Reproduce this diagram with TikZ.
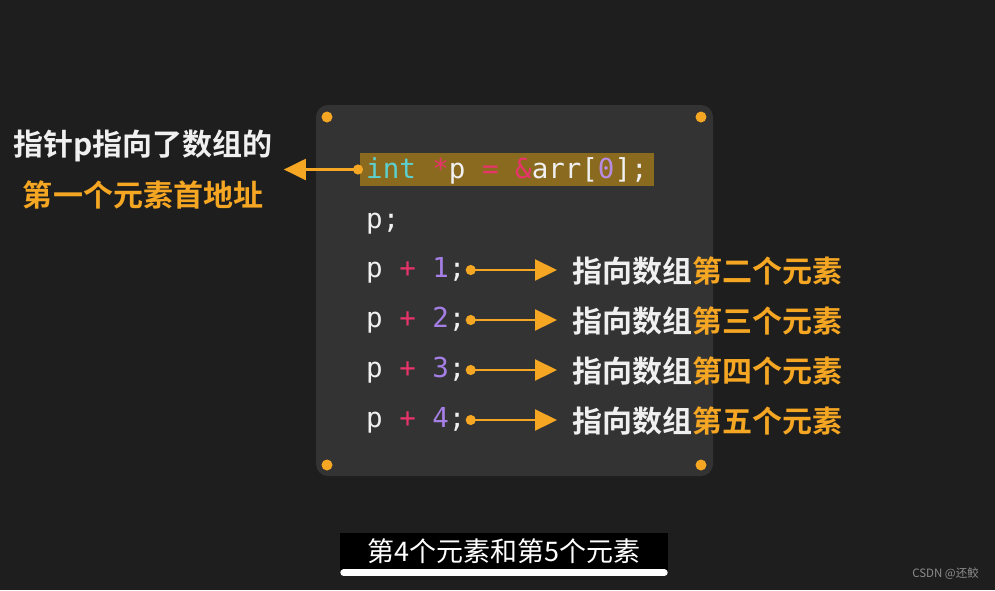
\documentclass[tikz,border=0pt]{standalone}
\usepackage{fontspec}
\usepackage{xcolor}
\setmonofont{DejaVu Sans Mono}
\newfontfamily\cjk{Noto Sans CJK SC}[BoldFont={Noto Sans CJK SC Bold}]
\usetikzlibrary{positioning,arrows.meta}
\definecolor{cBg}{HTML}{1E1E1E}
\definecolor{cPanel}{HTML}{333333}
\definecolor{cHl}{HTML}{8A6A1E}
\definecolor{cOrange}{HTML}{F5A623}
\definecolor{cKw}{HTML}{5CCFCF}
\definecolor{cOp}{HTML}{E8336B}
\definecolor{cNum}{HTML}{A57FE6}
\definecolor{cTxt}{HTML}{F0F0F0}
\tikzset{
  panel/.style={fill=cPanel, rounded corners=12pt},
  pin/.style={circle, fill=cOrange, minimum size=11pt, inner sep=0pt},
  codeln/.style={anchor=base west, inner sep=0pt, text height=20pt, text depth=6pt,
                 font=\ttfamily\fontsize{27.5}{30}\selectfont, text=cTxt},
  hlbox/.style={codeln, fill=cHl, inner xsep=6pt, inner ysep=3pt,
                text height=22pt, text depth=5pt},
  tag/.style={anchor=west, inner sep=0pt, text=cTxt,
              font=\cjk\bfseries\fontsize{30}{30}\selectfont},
  % orange pointer: dot at the code, filled head at the text
  ptr/.style={{Circle[length=10pt]}-{Triangle[length=22pt,width=21pt]},
              draw=cOrange, line width=2.2pt},
  capbox/.style={fill=black, minimum width=328pt, minimum height=37pt, inner sep=0pt,
                 text=white, font=\cjk\fontsize{27}{27}\selectfont},
}
\newcommand{\kwd}[1]{\textcolor{cKw}{#1}}
\newcommand{\opr}[1]{\textcolor{cOp}{#1}}
\newcommand{\cnum}[1]{\textcolor{cNum}{#1}}
\newcommand{\hilite}[1]{\textcolor{cOrange}{#1}}

\begin{document}
\begin{tikzpicture}[x=1pt, y=-1pt]

\fill[cBg] (0,0) rectangle (995,590);
\useasboundingbox (0,0) rectangle (995,590);

%% ── code panel with its four corner pins ─────────────────────────────────
\path[panel] (316,105) rectangle (713,476);
\node[pin] (pinNW) at (327,117) {};
\node[pin] (pinNE) at (701,117) {};
\node[pin] (pinSW) at (327,465) {};
\node[pin] (pinSE) at (701,465) {};

%% ── the code lines ───────────────────────────────────────────────────────
\node[hlbox] (decl) at (360,178)
  {\kwd{int} \opr{*}p \opr{=} \opr{\&}arr[\textcolor{cNum!80!pink}{0}];};
\node[codeln] (cP)  at (366,228) {p;};
\node[codeln] (cP1) at (366,277) {p \opr{+} \cnum{1};};
\node[codeln] (cP2) at (366,327) {p \opr{+} \cnum{2};};
\node[codeln] (cP3) at (366,377) {p \opr{+} \cnum{3};};
\node[codeln] (cP4) at (366,427) {p \opr{+} \cnum{4};};

%% ── what each line points at ─────────────────────────────────────────────
\node[align=center, inner sep=0pt, text=cTxt,
      font=\cjk\bfseries\fontsize{30}{51}\selectfont] (lblAddr) at (143,170)
  {指针p指向了数组的\\\hilite{第一个元素首地址}};
\node[tag] (lbl2) at (572,271) {指向数组\hilite{第二个元素}};
\node[tag] (lbl3) at (572,321) {指向数组\hilite{第三个元素}};
\node[tag] (lbl4) at (572,371) {指向数组\hilite{第四个元素}};
\node[tag] (lbl5) at (572,421) {指向数组\hilite{第五个元素}};

\draw[ptr, shorten <=-3pt, shorten >=11pt] (decl.west) -- (decl.west -| lblAddr.east);
\draw[ptr, shorten >=15pt] (cP1.east) -- (cP1.east -| lbl2.west);
\draw[ptr, shorten >=15pt] (cP2.east) -- (cP2.east -| lbl3.west);
\draw[ptr, shorten >=15pt] (cP3.east) -- (cP3.east -| lbl4.west);
\draw[ptr, shorten >=15pt] (cP4.east) -- (cP4.east -| lbl5.west);

%% ── subtitle strip and watermark ─────────────────────────────────────────
\node[capbox] (cap) at (504,551) {第4个元素和第5个元素};
\draw[white, line width=7pt, line cap=round]
  ([xshift=4pt, yshift=-3pt]cap.south west) -- ([xshift=-4pt, yshift=-3pt]cap.south east);
\node[anchor=east, inner sep=0pt, text=black!45,
      font=\cjk\fontsize{11.5}{11.5}\selectfont] (mark) at (979,574) {CSDN @还鲛};

\end{tikzpicture}
\end{document}
